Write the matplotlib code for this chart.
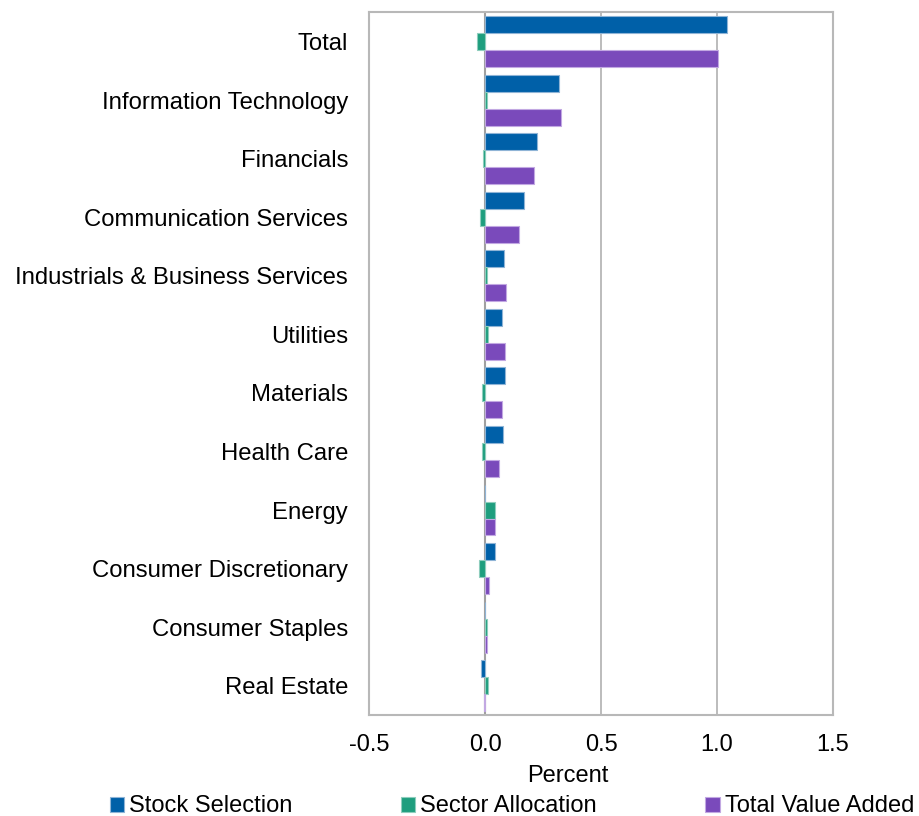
import matplotlib
matplotlib.use("Agg")
import matplotlib.pyplot as plt
import numpy as np

plt.rcParams['font.family'] = ['Liberation Sans', 'DejaVu Sans']

categories = ["Total", "Information Technology", "Financials", "Communication Services",
              "Industrials & Business Services", "Utilities", "Materials", "Health Care",
              "Energy", "Consumer Discretionary", "Consumer Staples", "Real Estate"]
stock_selection = [1.043, 0.319, 0.222, 0.168, 0.082, 0.072, 0.088, 0.079, 0.0, 0.045, 0.001, -0.016]
sector_allocation = [-0.036, 0.010, -0.007, -0.020, 0.007, 0.014, -0.012, -0.014, 0.045, -0.025, 0.010, 0.015]
total_value_added = [1.006, 0.329, 0.212, 0.145, 0.089, 0.085, 0.075, 0.062, 0.045, 0.017, 0.010, -0.004]
xticks = [-0.5, 0.0, 0.5, 1.0, 1.5]
series_names = ["Stock Selection", "Sector Allocation", "Total Value Added"]
colors = ["#0060A8", "#1E9E7E", "#7A4ABB"]
edges = ["#8FB4D6", "#8ECDBD", "#C2A8E2"]

fig = plt.figure(figsize=(9.19, 8.16), dpi=100)
ax = fig.add_axes([0.4015, 0.1238, 0.505, 0.8612])

y = np.arange(len(categories))
h = 0.29
for i, (vals, name) in enumerate(zip([stock_selection, sector_allocation, total_value_added], series_names)):
    ax.barh(y + (i - 1) * h, vals, height=h, color=colors[i], edgecolor=edges[i], linewidth=0.8,
            label=name, zorder=3)

ax.set_ylim(len(categories) - 0.5, -0.5)
ax.set_xlim(-0.5, 1.5)
ax.set_yticks(y)
ax.set_yticklabels(categories, fontsize=17.2)
ax.set_xticks(xticks)
ax.set_xticklabels([f"{t:.1f}" for t in xticks], fontsize=17)
ax.tick_params(axis='x', length=0, pad=14)
ax.tick_params(axis='y', length=0, pad=15)
ax.set_xlabel("Percent", fontsize=17)
ax.xaxis.set_label_coords(0.429, -0.0707, transform=ax.transAxes)
for t in [0.5, 1.0]:
    ax.axvline(t, color="#B0B0B0", linewidth=1.2, zorder=1)
ax.axvline(0, color="#A0A0A0", linewidth=1.5, zorder=2)
for s in ax.spines.values():
    s.set_color("#B8B8B8")
    s.set_linewidth(1.5)

fig.legend(loc="center", bbox_to_anchor=(0.557, 0.0118), ncol=3, frameon=False,
           fontsize=17, handlelength=0.6, handleheight=0.6, handletextpad=0.22,
           columnspacing=4.6, borderpad=0, borderaxespad=0)

fig.savefig("out.png", dpi=100)
